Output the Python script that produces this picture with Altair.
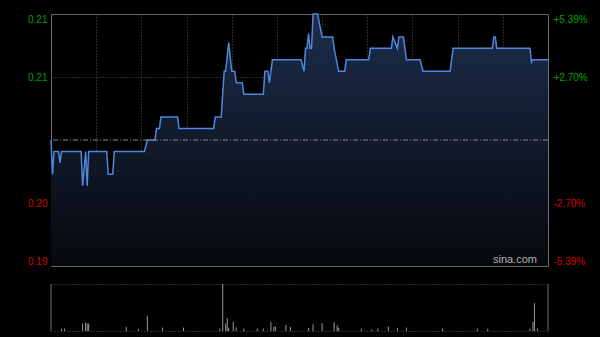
import altair as alt
import pandas as pd

# ---- intraday price (minute index from 09:30, HK session = 330 minutes) ----
price_minutes = [0, 1, 2, 5, 6, 7, 20, 21, 23, 24, 25, 37, 38, 41, 42, 62, 64, 69, 70, 72, 73,
                 84, 85, 108, 109, 113, 115, 116, 118, 120, 122, 123, 127, 128, 141, 142, 144,
                 145, 147, 166, 168, 169, 170, 171, 172, 173, 174, 177, 180, 187, 188, 191,
                 195, 196, 211, 212, 226, 227, 230, 231, 234, 236, 245, 247, 265, 267, 293,
                 294, 295, 296, 318, 319, 320, 330]
price_values = [0.204, 0.201, 0.203, 0.203, 0.202, 0.203, 0.203, 0.200, 0.203, 0.200, 0.203,
                0.203, 0.201, 0.201, 0.203, 0.203, 0.204, 0.204, 0.205, 0.205, 0.206,
                0.206, 0.205, 0.205, 0.206, 0.206, 0.210, 0.210, 0.2125, 0.210, 0.210, 0.209,
                0.209, 0.208, 0.208, 0.210, 0.210, 0.209, 0.211, 0.211, 0.210, 0.212, 0.212,
                0.2133, 0.212, 0.212, 0.215, 0.215, 0.213, 0.213, 0.212, 0.210, 0.210, 0.211,
                0.211, 0.212, 0.212, 0.213, 0.212, 0.213, 0.213, 0.211, 0.211, 0.210, 0.210,
                0.212, 0.212, 0.213, 0.213, 0.212, 0.212, 0.2108, 0.211, 0.211]

# ---- volume (relative units) ----
vol_minutes = [7, 9, 21, 23, 24, 25, 50, 58, 64, 74, 88, 112, 114, 116, 117, 118, 121, 123,
               128, 137, 141, 146, 148, 149, 156, 159, 171, 174, 180, 188, 190, 191, 206, 213,
               217, 224, 230, 236, 260, 283, 290, 318, 320, 321, 323]
vol_values = [2, 2.4, 7.4, 8.4, 7.4, 7.4, 4, 2, 15, 3.4, 3.4, 2.4, 46.7, 7.4, 12.7, 3.4, 9, 3.4,
              2.4, 2.4, 2.4, 9, 4.4, 4.4, 6, 4, 3, 6.7, 7.7, 8.7, 5.7, 3.4, 2.4, 1.7,
              2.4, 4.4, 3, 3.4, 2.4, 2.4, 2.4, 2.4, 9, 27.7, 2.4]

prev_close = 0.204
y_ticks = [0.193, 0.1985, 0.2095, 0.215]
left_labels = ["0.19", "0.20", "0.21", "0.21"]
right_labels = ["-5.39%", "-2.70%", "+2.70%", "+5.39%"]
x_grid = [30, 60, 90, 120, 150, 180, 210, 240, 270, 300]
vol_max = 46.7
vol_grid = [0, 23.35, 46.7]

price_df = pd.DataFrame({"m": price_minutes, "p": price_values})
vol_df = pd.DataFrame({"m": vol_minutes, "v": vol_values})
pc_df = pd.DataFrame({"p": [prev_close]})

FONT = "Liberation Sans"
GRID = "#555555"
FRAME = "#6a6a6a"
GREEN = "#00a000"
RED = "#d00000"

xscale = alt.Scale(domain=[0, 330], nice=False, zero=False)
yscale = alt.Scale(domain=[y_ticks[0], y_ticks[-1]], nice=False, zero=False)

def lbl_expr(labels):
    return "[" + ",".join("'%s'" % s for s in labels) + "][indexof([" + \
        ",".join(str(t) for t in y_ticks) + "], datum.value)]"

label_color = {"condition": {"test": "datum.value > %s" % prev_close, "value": GREEN},
               "value": RED}

x_axis = alt.Axis(values=x_grid, labels=False, ticks=False, domain=False, grid=True,
                  gridColor=GRID, gridDash=[1, 2], title=None)

left_axis = alt.Axis(values=y_ticks, orient="left", labelExpr=lbl_expr(left_labels),
                     labelColor=label_color, labelFont=FONT, labelFontSize=10,
                     labelPadding=4, ticks=False, domain=False, grid=True,
                     gridColor=GRID, gridDash=[1, 2], labelFlush=True, title=None)
right_axis = alt.Axis(values=y_ticks, orient="right", labelExpr=lbl_expr(right_labels),
                      labelColor=label_color, labelFont=FONT, labelFontSize=10,
                      labelPadding=5, ticks=False, domain=False, grid=False,
                      labelFlush=True, title=None)

gradient = alt.Gradient(gradient="linear",
                        stops=[alt.GradientStop(color="#1c2d4c", offset=0),
                               alt.GradientStop(color="#06080c", offset=1)],
                        x1=1, x2=1, y1=0, y2=1)

area = alt.Chart(price_df).mark_area(color=gradient, interpolate="linear").encode(
    x=alt.X("m:Q", scale=xscale, axis=x_axis),
    y=alt.Y("p:Q", scale=yscale, axis=left_axis),
    y2=alt.datum(y_ticks[0]),
)
line = alt.Chart(price_df).mark_line(color="#4d88dc", strokeWidth=1.5,
                                     interpolate="linear").encode(
    x=alt.X("m:Q", scale=xscale),
    y=alt.Y("p:Q", scale=yscale),
)
watermark = alt.Chart(pc_df).mark_text(
    align="right", baseline="bottom", dx=-11, dy=-1, color="#b0b0b0",
    font=FONT, fontSize=11, text="sina.com").encode(
    x=alt.datum(330), y=alt.datum(y_ticks[0]))

pc_rule = alt.Chart(pc_df).mark_rule(color="#8a8a8a", strokeWidth=1,
                                     strokeDash=[5, 2, 1, 2]).encode(
    y=alt.Y("p:Q", scale=yscale, axis=right_axis))

top = alt.layer(alt.layer(area, line, watermark), pc_rule).resolve_scale(
    y="independent").properties(width=497, height=252,
                                view=alt.ViewBackground(stroke=FRAME))

vscale = alt.Scale(domain=[0, vol_max], nice=False, zero=True)
vol_axis = alt.Axis(values=vol_grid, labels=False, ticks=False, domain=False, grid=True,
                    gridColor=GRID, gridDash=[1, 2], title=None)
bars = alt.Chart(vol_df).mark_rule(color="#9a9a9a", strokeWidth=1).encode(
    x=alt.X("m:Q", scale=xscale, axis=None),
    y=alt.Y("v:Q", scale=vscale, axis=vol_axis),
    y2=alt.datum(0),
)
edges = alt.Chart(pd.DataFrame({"m": [0, 330]})).mark_rule(color=FRAME).encode(
    x=alt.X("m:Q", scale=xscale, axis=None),
    y=alt.datum(0), y2=alt.datum(vol_max))

bottom = alt.layer(bars, edges).properties(width=497, height=47,
                                           view=alt.ViewBackground(stroke=None))

chart = alt.vconcat(top, bottom, spacing=16).properties(
    background="#000000",
    padding={"left": 27, "top": 10, "right": 12, "bottom": 5},
).configure_view(stroke=None)

chart.save("out.html", embed_options={"renderer": "svg", "actions": False})
